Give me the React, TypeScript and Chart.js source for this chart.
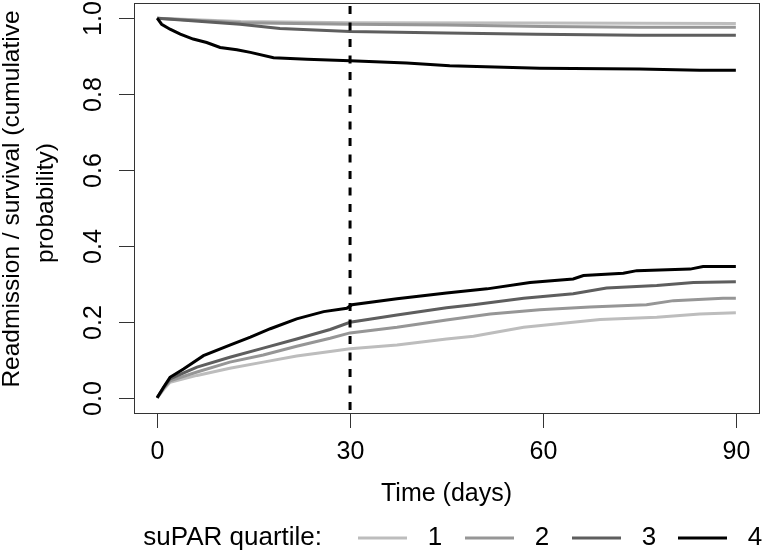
import React, { useEffect, useRef } from "react";
import { Chart, registerables } from "chart.js";

Chart.register(...registerables);

// quartile labels and line greys
const quartiles = ["1", "2", "3", "4"];
const quartileColors = ["#bdbdbd", "#969696", "#5e5e5e", "#000000"];

// readmission (cumulative incidence), days / probability
const readT1 = [0, 1, 2, 6.2, 11.3, 16.5, 21.7, 26.9, 30, 37.3, 45, 49.2, 57, 68.9, 77.7, 84.4, 90];
const readV1 = [0, 0.022, 0.041, 0.059, 0.078, 0.094, 0.11, 0.122, 0.129, 0.139, 0.155, 0.162, 0.186, 0.206, 0.212, 0.221, 0.224];
const readT2 = [0, 1, 2, 6.2, 11.3, 16.5, 21.7, 26.9, 30, 37.3, 45, 51.8, 59.5, 67.3, 76.1, 80.3, 88, 90];
const readV2 = [0, 0.025, 0.045, 0.068, 0.094, 0.113, 0.136, 0.157, 0.171, 0.186, 0.205, 0.221, 0.232, 0.239, 0.245, 0.256, 0.262, 0.262];
const readT3 = [0, 1, 2, 6.2, 11.3, 16.5, 21.7, 26.9, 30, 37.3, 45, 49.2, 57, 64.7, 69.9, 77.7, 83.4, 90];
const readV3 = [0, 0.027, 0.05, 0.081, 0.107, 0.131, 0.155, 0.18, 0.199, 0.218, 0.237, 0.245, 0.262, 0.274, 0.289, 0.296, 0.304, 0.306];
const readT4 = [0, 1, 2, 4.1, 7.2, 11.3, 14.5, 17.6, 21.7, 25.9, 29.5, 30.3, 37.3, 45, 51.3, 58, 64.7, 66.3, 72.5, 74.6, 82.9, 84.9, 90];
const readV4 = [0, 0.028, 0.054, 0.076, 0.111, 0.139, 0.16, 0.182, 0.208, 0.227, 0.236, 0.245, 0.261, 0.276, 0.287, 0.304, 0.313, 0.322, 0.328, 0.335, 0.339, 0.346, 0.346];

// survival
const survT1 = [0, 13, 30, 60, 90];
const survV1 = [1, 0.991, 0.988, 0.987, 0.986];
const survT2 = [0, 13, 30, 45, 60, 75, 90];
const survV2 = [1, 0.988, 0.984, 0.982, 0.978, 0.976, 0.976];
const survT3 = [0, 12.9, 19.1, 30, 45, 59, 75, 90];
const survV3 = [1, 0.984, 0.973, 0.965, 0.961, 0.958, 0.955, 0.955];
const survT4 = [0, 0.7, 2, 3.6, 5.6, 7.7, 9.8, 12.4, 14.5, 18.1, 23.3, 30, 38.8, 45.5, 59.5, 75, 84.4, 90];
const survV4 = [1, 0.984, 0.971, 0.958, 0.945, 0.936, 0.923, 0.917, 0.91, 0.896, 0.892, 0.888, 0.882, 0.875, 0.868, 0.866, 0.863, 0.863];

const xTicks = [0, 30, 60, 90];
const yTicks = [0, 0.2, 0.4, 0.6, 0.8, 1.0];
const cutoffDay = 30;

const readTimes = [readT1, readT2, readT3, readT4];
const readVals = [readV1, readV2, readV3, readV4];
const survTimes = [survT1, survT2, survT3, survT4];
const survVals = [survV1, survV2, survV3, survV4];

const FONT = '"Liberation Sans", Arial, sans-serif';
const FS = 25;

const pairs = (t: number[], v: number[]) => t.map((x, i) => ({ x, y: v[i] }));

const rAxes = {
  id: "rAxes",
  afterDatasetsDraw(chart: any) {
    const { ctx, chartArea } = chart;
    const px = chart.scales.x.getPixelForValue(cutoffDay);
    ctx.save();
    ctx.strokeStyle = "#000";
    ctx.lineWidth = 3;
    ctx.setLineDash([8, 8.5]);
    ctx.beginPath();
    ctx.moveTo(px, chartArea.top + 3);
    ctx.lineTo(px, chartArea.bottom);
    ctx.stroke();
    ctx.restore();
  },
  afterDraw(chart: any) {
    const { ctx, chartArea: a } = chart;
    const xs = chart.scales.x;
    const ys = chart.scales.y;
    ctx.save();
    ctx.strokeStyle = "#333";
    ctx.lineWidth = 1;
    ctx.strokeRect(Math.round(a.left) + 0.5, Math.round(a.top) + 0.5, Math.round(a.right - a.left), Math.round(a.bottom - a.top));

    ctx.fillStyle = "#000";
    ctx.font = `${FS}px ${FONT}`;

    // x ticks
    ctx.textAlign = "center";
    ctx.textBaseline = "alphabetic";
    xTicks.forEach((t) => {
      const p = Math.round(xs.getPixelForValue(t)) + 0.5;
      ctx.beginPath();
      ctx.moveTo(p, a.bottom);
      ctx.lineTo(p, a.bottom + 15);
      ctx.stroke();
      ctx.fillText(String(t), p, a.bottom + 46);
    });

    // y ticks, labels rotated like R
    yTicks.forEach((v) => {
      const p = Math.round(ys.getPixelForValue(v)) + 0.5;
      ctx.beginPath();
      ctx.moveTo(a.left - 15, p);
      ctx.lineTo(a.left, p);
      ctx.stroke();
      ctx.save();
      ctx.translate(a.left - 33, p);
      ctx.rotate(-Math.PI / 2);
      ctx.fillText(v.toFixed(1), 0, 0);
      ctx.restore();
    });

    // axis titles
    ctx.font = `24.5px ${FONT}`;
    ctx.save();
    ctx.translate(19, 199);
    ctx.rotate(-Math.PI / 2);
    ctx.fillText("Readmission / survival (cumulative", 0, 0);
    ctx.restore();
    ctx.save();
    ctx.translate(53, 203);
    ctx.rotate(-Math.PI / 2);
    ctx.fillText("probability)", 0, 0);
    ctx.restore();

    ctx.font = `${FS}px ${FONT}`;
    ctx.fillText("Time (days)", (a.left + a.right) / 2, a.bottom + 88);

    // legend
    const ly = 538;
    ctx.font = `26px ${FONT}`;
    ctx.textBaseline = "middle";
    ctx.textAlign = "right";
    ctx.fillText("suPAR quartile:", 322, ly);
    const segs = [358, 465, 572, 678];
    ctx.lineWidth = 3;
    quartiles.forEach((q, i) => {
      ctx.strokeStyle = quartileColors[i];
      ctx.beginPath();
      ctx.moveTo(segs[i], ly);
      ctx.lineTo(segs[i] + 49, ly);
      ctx.stroke();
      ctx.textAlign = "center";
      ctx.fillText(q, segs[i] + 77, ly);
    });
    ctx.restore();
  },
};

export default function App() {
  const canvasRef = useRef<HTMLCanvasElement | null>(null);
  const chartRef = useRef<Chart | null>(null);

  useEffect(() => {
    if (!canvasRef.current) return;
    if (chartRef.current) chartRef.current.destroy();

    const datasets: any[] = [];
    quartiles.forEach((q, i) => {
      datasets.push({
        label: `Readmission Q${q}`,
        data: pairs(readTimes[i], readVals[i]),
        borderColor: quartileColors[i],
        borderWidth: 3,
        pointRadius: 0,
        tension: 0,
        order: 3 - i,
      });
      datasets.push({
        label: `Survival Q${q}`,
        data: pairs(survTimes[i], survVals[i]),
        borderColor: quartileColors[i],
        borderWidth: 3,
        pointRadius: 0,
        tension: 0,
        order: 3 - i,
      });
    });

    chartRef.current = new Chart(canvasRef.current, {
      type: "line",
      data: { datasets },
      options: {
        animation: false,
        responsive: true,
        maintainAspectRatio: false,
        layout: { padding: { left: 134, top: 3, right: 5, bottom: 142 } },
        plugins: {
          legend: { display: false },
          tooltip: { enabled: false },
        },
        scales: {
          x: { type: "linear", min: -3.6, max: 93.6, display: false },
          y: { type: "linear", min: -0.04, max: 1.04, display: false },
        },
      },
      plugins: [rAxes],
    });

    return () => {
      if (chartRef.current) {
        chartRef.current.destroy();
        chartRef.current = null;
      }
    };
  }, []);

  return (
    <div style={{ position: "absolute", left: 0, top: 0, width: 764, height: 555, background: "#fff" }}>
      <canvas ref={canvasRef}></canvas>
    </div>
  );
}
